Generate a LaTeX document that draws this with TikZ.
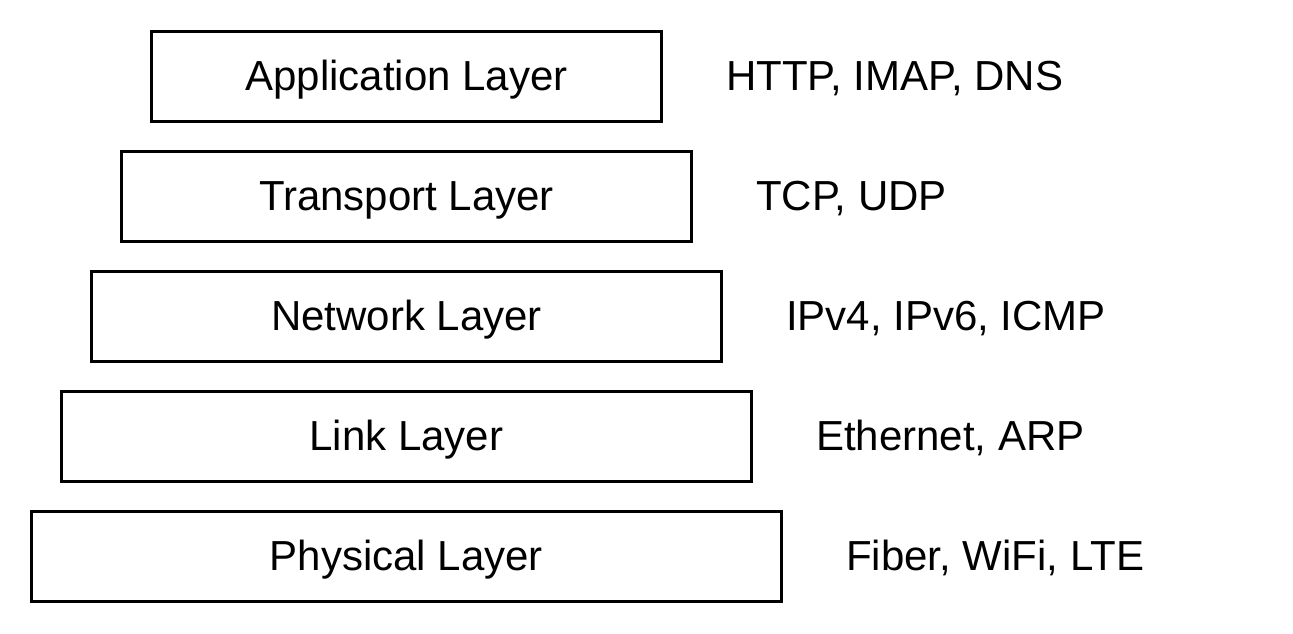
\documentclass[tikz,border=0pt]{standalone}
\usepackage{fontspec}
\setmainfont{Liberation Sans}
\begin{document}
\begin{tikzpicture}[x=1pt,y=-1pt,
  layertext/.style={font=\fontsize{42}{48}\selectfont,text height=27pt,text depth=0pt},
  layerbox/.style={layertext,draw=black,line width=3pt,inner sep=0pt,minimum height=90pt},
  proto/.style={layertext,inner sep=0pt,anchor=west}]
\useasboundingbox (0,0) rectangle (1293,633);
\node[layerbox,minimum width=510pt] (app) at (406.5,76.5) {Application Layer};
\node[layerbox,minimum width=570pt] (tra) at (406.5,196.5) {Transport Layer};
\node[layerbox,minimum width=630pt] (net) at (406.5,316.5) {Network Layer};
\node[layerbox,minimum width=690pt] (lnk) at (406.5,436.5) {Link Layer};
\node[layerbox,minimum width=750pt] (phy) at (406.5,556.5) {Physical Layer};
\node[proto] (papp) at ([xshift=63pt]app.east) {HTTP, IMAP, DNS};
\node[proto] (ptra) at ([xshift=63pt]tra.east) {TCP, UDP};
\node[proto] (pnet) at ([xshift=63pt]net.east) {IPv4, IPv6, ICMP};
\node[proto] (plnk) at ([xshift=63pt]lnk.east) {Ethernet, ARP};
\node[proto] (pphy) at ([xshift=63pt]phy.east) {Fiber, WiFi, LTE};
\end{tikzpicture}
\end{document}
